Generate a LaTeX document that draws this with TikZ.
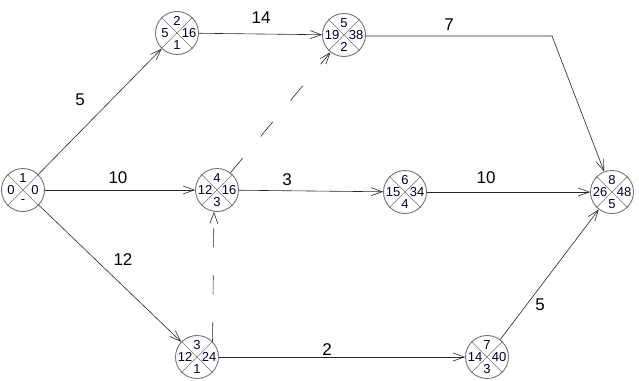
\documentclass[tikz,border=0pt]{standalone}
\usepackage{fontspec}
\setmainfont{Liberation Sans}
\usetikzlibrary{arrows.meta}
\tikzset{
  ev/.style={circle, draw=black!55, minimum size=43pt, inner sep=0pt, line width=0.9pt},
  crossln/.style={draw=black!55, line width=0.6pt},
  num/.style={font=\fontsize{13}{13}\selectfont, inner sep=0pt, text=black!85!blue},
  lab/.style={font=\fontsize{17}{17}\selectfont, inner sep=0pt},
  act/.style={draw=black!85, line width=0.6pt, -{Straight Barb[length=11pt,width=8pt]}},
  dum/.style={act, dash pattern=on 19pt off 28pt},
}
\newcommand\evt[6]{%
  \node[ev] (#1) at (#2) {};
  \draw[crossln] (#1.45) -- (#1.225) (#1.135) -- (#1.-45);
  \node[num] (#1t) at ([yshift=12pt]#1.center) {#3};
  \node[num] (#1l) at ([xshift=-12pt]#1.center) {#4};
  \node[num] (#1r) at ([xshift=12pt]#1.center) {#5};
  \node[num] (#1b) at ([yshift=-12pt]#1.center) {#6};
}
\begin{document}
\begin{tikzpicture}[x=1pt,y=-1pt]
\useasboundingbox (0,0) rectangle (639,380);
\evt{n1}{23,190}{1}{0}{0}{-}
\evt{n2}{177,33}{2}{5}{16}{1}
\evt{n5}{344,35}{5}{19}{38}{2}
\evt{n4}{217,190}{4}{12}{16}{3}
\evt{n6}{405,192}{6}{15}{34}{4}
\evt{n8}{612,192}{8}{26}{48}{5}
\evt{n3}{197,357}{3}{12}{24}{1}
\evt{n7}{487,357}{7}{14}{40}{3}
\coordinate (bend) at (552,36);
\draw[act] (n1) -- (n2);
\draw[act] (n2) -- (n5);
\draw[act] (n5.east |- bend) -- (bend) -- (n8);
\draw[act] (n1) -- (n4);
\draw[act] (n4) -- (n6);
\draw[act] (n6) -- (n8);
\draw[act] (n1) -- (n3);
\draw[act] (n3) -- (n7);
\draw[act] (n7) -- (n8);
\draw[dum] (n3.45) -- (n4.262);
\draw[dum] (n4.52) -- (n5.232);
\node[lab] (l12) at (80,100) {5};
\node[lab] (l25) at (261,18) {14};
\node[lab] (l58) at (449,25) {7};
\node[lab] (l14) at (118,178) {10};
\node[lab] (l46) at (287,180) {3};
\node[lab] (l68) at (486,178) {10};
\node[lab] (l13) at (123,260) {12};
\node[lab] (l37) at (327,350) {2};
\node[lab] (l78) at (540,305) {5};
\end{tikzpicture}
\end{document}
